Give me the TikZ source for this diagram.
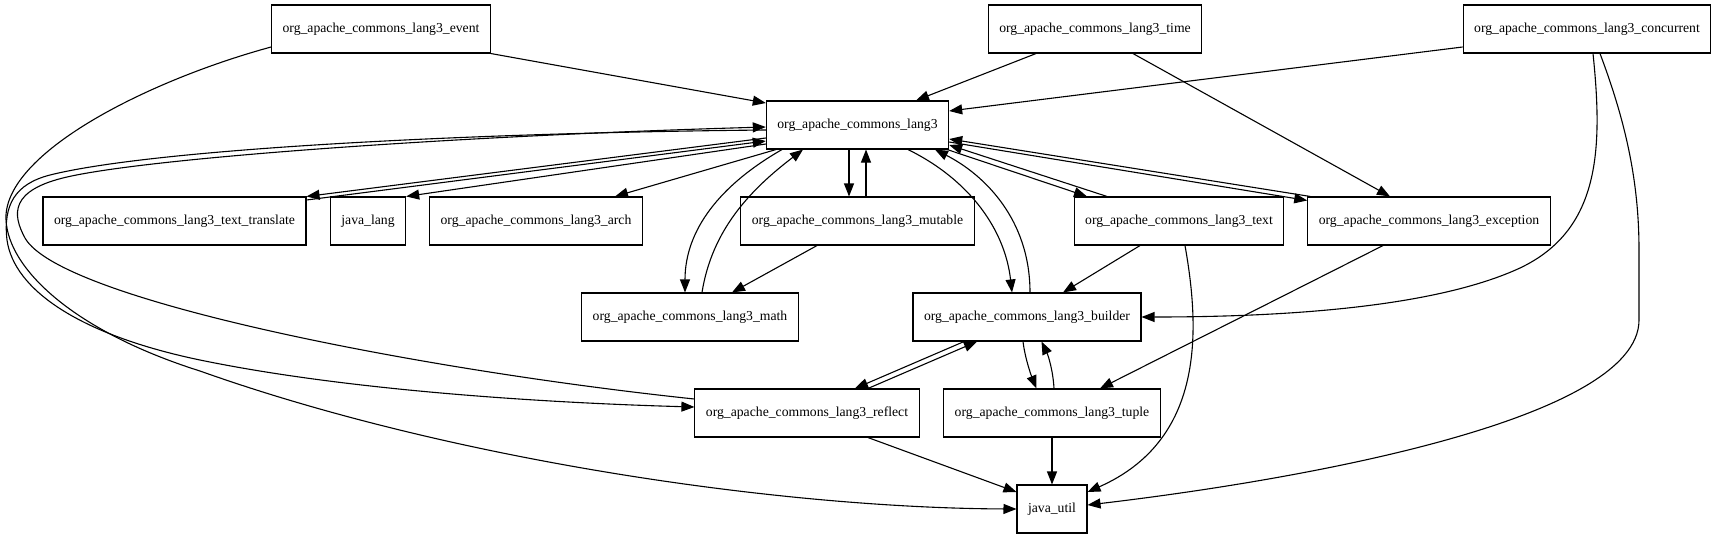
\documentclass[tikz,border=0pt]{standalone}
\usepackage{fontspec}
\setmainfont{Liberation Serif}
\usetikzlibrary{arrows.meta,calc}
\begin{document}
\begin{tikzpicture}[x=1pt,y=-1pt,
  box/.style={draw,line width=1.1pt,rectangle,minimum height=48pt,inner xsep=11pt,inner ysep=0pt,font=\fontsize{13.7}{16}\selectfont},
  edge/.style={line width=1.1pt,-{Triangle[length=13pt,width=10pt]}}]
\useasboundingbox (0,0) rectangle (1717,539);
% nodes
\node[box] (event) at (381,29) {org\_apache\_commons\_lang3\_event};
\node[box] (time) at (1095,29) {org\_apache\_commons\_lang3\_time};
\node[box] (conc) at (1587,29) {org\_apache\_commons\_lang3\_concurrent};
\node[box] (lang3) at (857.5,125) {org\_apache\_commons\_lang3};
\node[box] (transl) at (174.5,221) {org\_apache\_commons\_lang3\_text\_translate};
\node[box] (jlang) at (368,221) {java\_lang};
\node[box] (arch) at (536,221) {org\_apache\_commons\_lang3\_arch};
\node[box] (mutable) at (857.5,221) {org\_apache\_commons\_lang3\_mutable};
\node[box] (text) at (1179,221) {org\_apache\_commons\_lang3\_text};
\node[box] (exc) at (1429,221) {org\_apache\_commons\_lang3\_exception};
\node[box] (math) at (690,317) {org\_apache\_commons\_lang3\_math};
\node[box] (builder) at (1027,317) {org\_apache\_commons\_lang3\_builder};
\node[box] (reflect) at (807,413) {org\_apache\_commons\_lang3\_reflect};
\node[box] (tuple) at (1052,413) {org\_apache\_commons\_lang3\_tuple};
\node[box] (jutil) at (1052,509) {java\_util};
% event
\draw[edge] (event.south east) -- ($(lang3.west)+(0,-22)$);
\draw[edge] ($(event.west)+(0,18)$) .. controls (150,80) and (10,150) .. (6,215)
  .. controls (4,265) and (70,330) .. (200,371)
  .. controls (450,460) and (780,508) .. (jutil.west);
% time
\draw[edge] ($(time.south)+(-59,0)$) -- ($(lang3.north)+(58.5,0)$);
\draw[edge] ($(time.south)+(38,0)$) -- ($(exc.north)+(-39,0)$);
% concurrent
\draw[edge] ($(conc.west)+(0,18)$) -- ($(lang3.east)+(0,-14)$);
\draw[edge] ($(conc.south)+(6,0)$) .. controls (1603,150) and (1600,230) .. (1520,268)
  .. controls (1440,305) and (1300,317) .. (builder.east);
\draw[edge] ($(conc.south)+(13,0)$) .. controls (1625,120) and (1639,180) .. (1639,250)
  -- (1639,320) .. controls (1639,420) and (1300,480) .. ($(jutil.east)+(0,-4)$);
% text
\draw[edge] ($(text.south)+(6,0)$) .. controls (1200,330) and (1205,440) .. ($(jutil.east)+(0,-17)$);
\draw[edge] ($(text.south)+(-39,0)$) -- ($(builder.north)+(36,0)$);
\draw[edge] ($(text.north)+(-72,0)$) -- ($(lang3.east)+(0,20)$);
\draw[edge] ($(lang3.south east)+(-2,0)$) -- ($(text.north)+(-92,0)$);
% exception
\draw[edge] ($(exc.south)+(-46,0)$) -- ($(tuple.north)+(48,0)$);
\draw[edge] ($(exc.north west)+(3,0)$) -- ($(lang3.east)+(0,14)$);
\draw[edge] ($(lang3.east)+(0,17)$) -- ($(exc.north west)+(0,4)$);
% mutable
\draw[edge] ($(lang3.south)+(-8.5,0)$) -- ($(mutable.north)+(-8.5,0)$);
\draw[edge] ($(mutable.north)+(8.5,0)$) -- ($(lang3.south)+(8.5,0)$);
\draw[edge] ($(mutable.south)+(-40.5,0)$) -- ($(math.north)+(42,0)$);
% math
\draw[edge] ($(lang3.south)+(-75.5,0)$) .. controls (720,185) and (685,230) .. ($(math.north)+(-5,0)$);
\draw[edge] ($(math.north)+(12,0)$) .. controls (712,230) and (750,190) .. ($(lang3.south)+(-54.5,0)$);
% builder
\draw[edge] ($(lang3.south)+(50.5,0)$) .. controls (970,180) and (1005,230) .. ($(builder.north)+(-15,0)$);
\draw[edge] ($(builder.north)+(3,0)$) .. controls (1030,220) and (985,175) .. ($(lang3.south)+(77.5,0)$);
\draw[edge] ($(builder.south)+(-63,0)$) -- ($(reflect.north)+(48,0)$);
\draw[edge] ($(reflect.north)+(61,0)$) -- ($(builder.south)+(-50,0)$);
\draw[edge] ($(builder.south)+(-4,0)$) .. controls (1025,358) and (1031,375) .. ($(tuple.north)+(-15.5,0)$);
\draw[edge] ($(tuple.north)+(2,0)$) .. controls (1053,370) and (1048,355) .. ($(builder.south)+(14.5,0)$);
% reflect
\draw[edge] ($(lang3.west)+(0,5)$) .. controls (450,133) and (150,150) .. (50,175)
  .. controls (15,184) and (3,205) .. (7,240)
  .. controls (14,290) and (80,335) .. (200,360)
  .. controls (350,391) and (550,403) .. ($(reflect.west)+(0,-6)$);
\draw[edge] ($(reflect.west)+(0,-14)$) .. controls (420,370) and (60,300) .. (25,238)
  .. controls (12,214) and (10,190) .. (67,177)
  .. controls (150,158) and (450,136) .. ($(lang3.west)+(0,2)$);
\draw[edge] ($(reflect.south)+(61,0)$) -- ($(jutil.west)+(0,-17)$);
\draw[edge] (tuple.south) -- (jutil.north);
% lang3 to row 2
\draw[edge] ($(lang3.south)+(-81.5,0)$) -- ($(arch.north)+(79,0)$);
\draw[edge] ($(lang3.west)+(0,19)$) -- (jlang.north east);
\draw[edge] ($(lang3.west)+(0,13)$) -- (transl.north east);
\draw[edge] ($(transl.east)+(0,-21)$) -- ($(lang3.west)+(0,16)$);
\end{tikzpicture}
\end{document}
